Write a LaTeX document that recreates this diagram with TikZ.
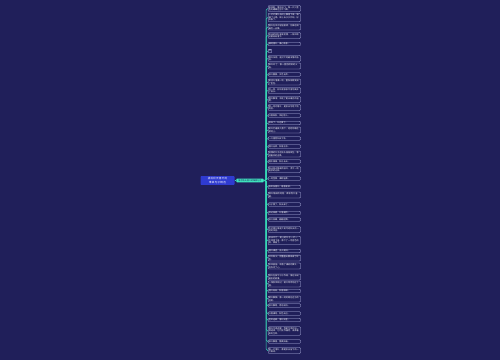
\documentclass[tikz,border=0pt]{standalone}
\usepackage{fontspec}
\newfontfamily\cjk{Noto Sans CJK SC}
\XeTeXlinebreaklocale "zh"
\XeTeXlinebreakskip = 0pt plus 0.2pt
\usetikzlibrary{positioning}
\definecolor{bgnavy}{RGB}{32,31,90}
\definecolor{rootblue}{RGB}{47,59,208}
\definecolor{midteal}{RGB}{64,232,192}
\definecolor{linkteal}{RGB}{58,214,182}
\definecolor{leafline}{RGB}{184,189,232}

\begin{document}
\begin{tikzpicture}[x=1pt, y=-1pt,
    root/.style={fill=rootblue, text=white, rounded corners=0.8pt, text width=29pt, align=center,
        inner xsep=2.5pt, inner ysep=1.6pt, font=\cjk\fontsize{2.6}{3.2}\selectfont},
    mid/.style={fill=midteal, text=bgnavy, rounded corners=0.6pt, inner xsep=2pt, inner ysep=0.9pt,
        font=\cjk\fontsize{2.1}{2.5}\selectfont},
    leaf/.style={draw=leafline, fill=bgnavy, text=white, rounded corners=0.8pt, line width=0.3pt,
        inner sep=0.7pt, align=left, anchor=west, font=\cjk\fontsize{2.1}{2.5}\selectfont},
    link/.style={draw=linkteal, line width=0.5pt, rounded corners=1.5pt}]
    \fill[bgnavy] (0,0) rectangle (500,360);
    \node[root] (root) at (217.5,180.5) {描写秋天落叶的唯美句子精选};
    \node[mid, right=1.5pt of root] (mid) {描写秋天落叶的唯美句子};
    \draw[link] (root) -- (mid);
    \foreach \y/\w/\txt [count=\i] in {
        8.5/31/秋风起，落叶纷飞，像一只只金色的蝴蝶在空中飞舞。,
        17.5/31/一片片黄叶从树上飘落下来，铺满了小路，踩上去沙沙作响，好听极了。,
        27/31/落叶在风中轻轻旋转，仿佛在跳最后一支舞。,
        35.5/31/秋天的树叶渐渐变黄，一阵风吹过便纷纷落下。,
        44/31/满地落叶，满心秋意。,
        51/2.2/叶,
        58.5/31/落叶归根，是对大地最深情的告白。,
        66/31/枫叶红了，像一团团燃烧的火焰。,
        74.5/31/秋叶静美，岁月无声。,
        82/31/银杏叶落满一地，整条街都变成了金色。,
        90.5/31/风一吹，树叶便依依不舍地离开了枝头。,
        99.5/31/落叶飘零，带走了夏天最后的温度。,
        107.5/31/那一地的落叶，是秋天写给大地的信。,
        115.5/31/叶落知秋，风起思人。,
        123/31/秋深了，叶也黄了。,
        130/31/树叶打着旋儿落下，轻轻地躺在草地上。,
        138.5/31/一叶落而知天下秋。,
        146.5/31/落叶无声，秋意正浓。,
        154/31/枯黄的叶子在枝头摇摇欲坠，等待着风的召唤。,
        161.5/31/落木萧萧，秋水长天。,
        169.5/31/阳光穿过稀疏的枝叶，洒下一地斑驳的光影。,
        178.5/31/一地金黄，满眼温柔。,
        187/31/秋风扫落叶，寒意渐浓。,
        195/31/落叶铺成的地毯，柔软而又温暖。,
        204.5/31/叶子黄了，秋天来了。,
        213/31/风过林梢，叶落满阶。,
        219.5/31/秋叶如蝶，翩翩起舞。,
        229.5/31/片片落叶像是大树写给秋天的一封封书信。,
        240.5/31/秋天到了，树上的叶子一片一片地落下来，像下了一场金色的雨，美极了。,
        251/31/落叶满径，无人来扫。,
        258/31/红叶似火，把整座山都染成了红色。,
        266/31/秋风瑟瑟，吹落了满树的黄叶，也吹凉了心。,
        277/31/落叶在脚下沙沙作响，像在诉说着秋的故事。,
        284/31/一阵秋风吹过，树叶哗哗地往下落。,
        291/31/落叶纷纷，秋意绵绵。,
        299/31/黄叶飘飘，像一封封寄往远方的信笺。,
        305.5/31/秋叶飘零，思念成诗。,
        313.5/31/叶落满地，秋色无边。,
        320/31/金风送爽，落叶如金。,
        331/31/落叶不是凋零，而是生命的另一种延续，它们化作春泥，滋养着新的生命。,
        341.5/31/秋叶飘落，静美如画。,
        350.5/31/每一片落叶，都是秋天留下的一个脚印。} {
        \node[leaf, text width=\w pt] (l\i) at (268,\y) {\txt};
        \draw[link] (mid.east) -- ++(2.5,0) |- (l\i.west);
    }
\end{tikzpicture}
\end{document}
